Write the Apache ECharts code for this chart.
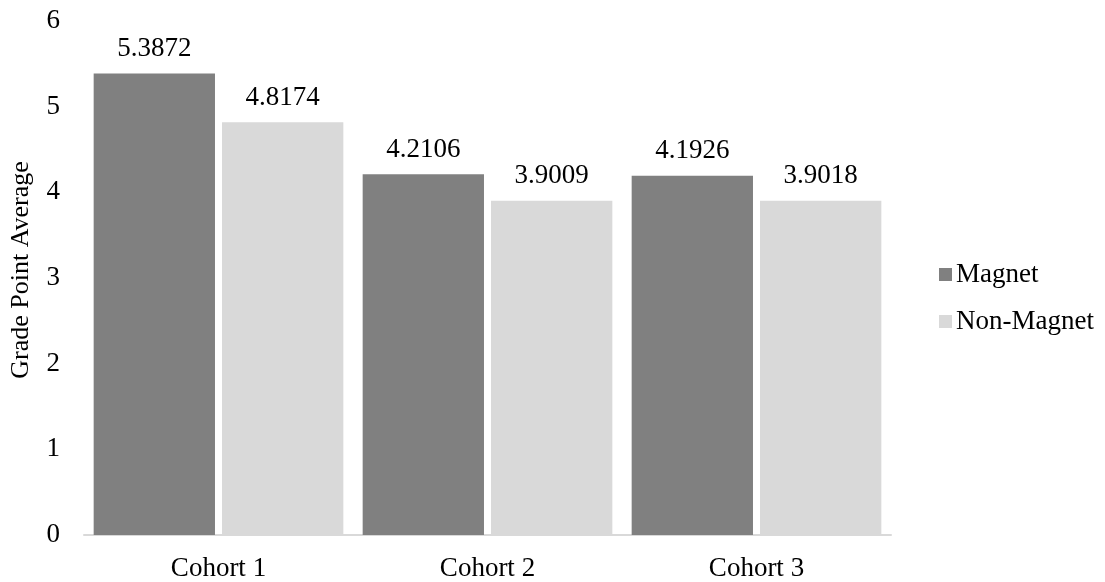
<!DOCTYPE html>
<html>
<head>
<meta charset="utf-8">
<script src="https://cdn.jsdelivr.net/npm/echarts@6/dist/echarts.min.js"></script>
<style>
  html, body { margin: 0; padding: 0; background: #fff; }
  #chart { width: 1105px; height: 582px; }
</style>
</head>
<body>
<div id="chart"></div>
<script>
// Grade point averages by cohort and school type
const cohorts = ['Cohort 1', 'Cohort 2', 'Cohort 3'];
const magnet = [5.3872, 4.2106, 4.1926];
const nonMagnet = [4.8174, 3.9009, 3.9018];
const seriesNames = ['Magnet', 'Non-Magnet'];

const FONT = "'Liberation Serif', 'Times New Roman', serif";
const FS = 27;

const chart = echarts.init(document.getElementById('chart'), null, { renderer: 'canvas' });

function barSeries(name, data, color) {
  return {
    name: name,
    type: 'bar',
    data: data,
    barWidth: '45.1%',
    barGap: '5.8%',
    itemStyle: { color: color },
    label: {
      show: true,
      position: 'top',
      distance: 11,
      fontFamily: FONT,
      fontSize: FS,
      color: '#000',
      formatter: p => p.value.toFixed(4)
    }
  };
}

chart.setOption({
  backgroundColor: '#fff',
  animation: false,
  textStyle: { fontFamily: FONT },
  grid: { left: 83, right: 214, top: 21, bottom: 47 },
  legend: {
    orient: 'vertical',
    left: 934,
    top: 256,
    itemWidth: 13,
    itemHeight: 13,
    itemGap: 20,
    icon: 'rect',
    textStyle: { fontFamily: FONT, fontSize: FS, color: '#000', padding: [0, 0, 0, -1] },
    data: seriesNames
  },
  xAxis: {
    type: 'category',
    data: cohorts,
    axisLine: { lineStyle: { color: '#d9d9d9', width: 2 } },
    axisTick: { show: false },
    axisLabel: { fontFamily: FONT, fontSize: FS, color: '#000', margin: 20 }
  },
  yAxis: {
    type: 'value',
    min: 0,
    max: 6,
    interval: 1,
    name: 'Grade Point Average',
    nameLocation: 'middle',
    nameGap: 50,
    nameTextStyle: { fontFamily: FONT, fontSize: 26, color: '#000', padding: [0, 0, 0, 16] },
    splitLine: { show: false },
    axisLine: { show: false },
    axisTick: { show: false },
    axisLabel: { fontFamily: FONT, fontSize: FS, color: '#000', margin: 24 }
  },
  series: [
    barSeries(seriesNames[0], magnet, '#808080'),
    barSeries(seriesNames[1], nonMagnet, '#d9d9d9')
  ]
});
</script>
</body>
</html>
